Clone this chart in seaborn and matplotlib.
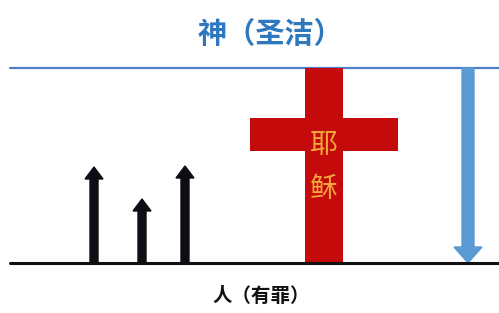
import matplotlib
matplotlib.use("Agg")
import matplotlib.pyplot as plt
import seaborn as sns
import pandas as pd

# diagram values (pixel space of the 499x313 picture)
arrow_x = [94, 142, 185]
arrow_top = [167, 199, 166]
ground_y = 263
heaven_y = 68
line_x = [10, 499]
cross_vertical = [305, 343]      # left, right of the upright
cross_arm_x = [250, 398]
cross_arm_y = [118, 151]
cross_chars = ["耶", "稣"]
cross_char_y = [145, 189]
down_arrow_x = 468
title_text = "神（圣洁）"
bottom_text = "人（有罪）"

sns.set_theme(style="white")
plt.rcParams['font.family'] = ['Noto Sans CJK SC', 'DejaVu Sans']

fig = plt.figure(figsize=(4.99, 3.13), dpi=100)
ax = fig.add_axes([0, 0, 1, 1])
ax.set_xlim(0, 499)
ax.set_ylim(313, 0)
ax.axis('off')

# heaven and earth lines
lines = pd.DataFrame({'x': line_x * 2, 'y': [heaven_y] * 2 + [ground_y] * 2,
                      'level': ['heaven'] * 2 + ['ground'] * 2})
sns.lineplot(data=lines[lines.level == 'heaven'], x='x', y='y', ax=ax,
             color='#4F7EC9', linewidth=1.6, zorder=1)
sns.lineplot(data=lines[lines.level == 'ground'], x='x', y='y', ax=ax,
             color='#111111', linewidth=2.2, zorder=4)

# human effort arrows
for x, top in zip(arrow_x, arrow_top):
    ax.arrow(x, ground_y, 0, top - ground_y, width=8, head_width=18,
             head_length=12, length_includes_head=True, color='#0d0d14', zorder=3)

# cross
ax.fill_between(cross_vertical, heaven_y, ground_y + 2, color='#C40A0A', zorder=2, linewidth=0)
ax.fill_between(cross_arm_x, cross_arm_y[0], cross_arm_y[1], color='#C40A0A', zorder=2, linewidth=0)
cx = sum(cross_vertical) / 2
for ch, y in zip(cross_chars, cross_char_y):
    ax.text(cx, y, ch, ha='center', va='center', fontsize=20, color='#F2A93B', zorder=5)

# grace coming down
ax.arrow(down_arrow_x, heaven_y, 0, ground_y - heaven_y, width=12, head_width=28,
         head_length=16, length_includes_head=True, color='#5B9BD5', zorder=3)

ax.text(270, 34, title_text, ha='center', va='center', fontsize=21,
        fontweight='heavy', color='#2E78BE')
ax.text(261, 296, bottom_text, ha='center', va='center', fontsize=14,
        fontweight='heavy', color='#111111')

fig.savefig('out.png', dpi=100)
